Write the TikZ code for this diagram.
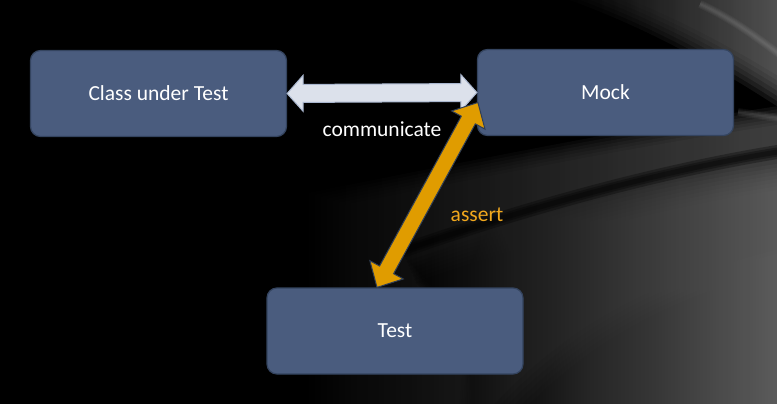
\documentclass[tikz,border=0pt]{standalone}
\usepackage{fontspec}
\setmainfont{Carlito}
\usetikzlibrary{calc}
\definecolor{boxfill}{HTML}{4A5C7E}
\definecolor{boxdraw}{HTML}{34445F}
\definecolor{commfill}{HTML}{DCE1EB}
\definecolor{commdraw}{HTML}{A9B6CE}
\definecolor{assfill}{HTML}{E09C00}
\definecolor{assdraw}{HTML}{2F3E56}
\definecolor{asstext}{HTML}{F2A81D}
\definecolor{bgLb}{HTML}{747474}
\definecolor{bgU}{HTML}{6A6A6A}
\definecolor{bgT}{HTML}{A0A0A0}
\newcommand{\blockarrow}[6]{%
  \draw[#6] (#1)
    -- ($(#1)!#4!(#2)!#5!90:(#2)$)
    -- ($(#1)!#4!(#2)!#3!90:(#2)$)
    -- ($(#2)!#4!(#1)!#3!-90:(#1)$)
    -- ($(#2)!#4!(#1)!#5!-90:(#1)$)
    -- (#2)
    -- ($(#2)!#4!(#1)!#5!90:(#1)$)
    -- ($(#2)!#4!(#1)!#3!90:(#1)$)
    -- ($(#1)!#4!(#2)!#3!-90:(#2)$)
    -- ($(#1)!#4!(#2)!#5!-90:(#2)$)
    -- cycle;}
\begin{document}
\begin{tikzpicture}[x=1pt,y=-1pt,
  box/.style={rectangle, rounded corners=10pt, fill=boxfill, draw=boxdraw,
    line width=1.2pt, minimum width=256pt, minimum height=86pt,
    text=white, font=\fontsize{21.5}{24}\selectfont},
  lbl/.style={font=\fontsize{21.5}{24}\selectfont, inner sep=0pt},
  comm/.style={fill=commfill, draw=commdraw, line width=1pt, line join=miter},
  ass/.style={fill=assfill, draw=assdraw, line width=1pt, line join=miter}]
\useasboundingbox (0,0) rectangle (777,404);
% background
\fill[black] (0,0) rectangle (777,404);
% upper grey band
\foreach \k in {0,...,6} {
  \shade[left color=black, right color=bgU, fill opacity=.14, shift={(\k*0.8,\k*3)}]
    (270,200) .. controls (430,170) and (620,128) .. (820,100) -- (820,440) -- (270,440) -- cycle;
}
% dark wedge
\foreach \w in {14,9,5} {
  \draw[black, opacity=.3, line width=\w pt, line cap=round]
    (405,250) .. controls (520,210) and (660,170) .. (790,150);
}
% lower grey region
\foreach \k in {0,...,7} {
  \shade[left color=black, right color=bgLb, fill opacity=.15, shift={(\k*1.5,\k*3.5)}]
    (405,258) .. controls (520,218) and (660,178) .. (820,158) -- (820,440) -- (450,440) .. controls (480,350) and (450,300) .. cycle;
}
% bottom right brighter
\foreach \k in {0,...,5} {
  \shade[left color=black, right color=bgLb, fill opacity=.12, shift={(\k*4,\k*3)}]
    (480,420) .. controls (560,330) and (650,275) .. (820,240) -- (820,440) -- cycle;
}
% top right corner
\foreach \k in {0,...,6} {
  \shade[left color=black, right color=bgT, fill opacity=.14, shift={(\k*5,-\k*2)}]
    (540,-10) -- (820,-10) -- (820,135) .. controls (740,80) and (650,25) .. (540,-10);
}
\foreach \k in {0,...,3} {
  \draw[white, opacity=.04, line width=2pt+\k*2pt]
    (700,4) .. controls (735,20) and (760,40) .. (790,62);
  \draw[white, opacity=.04, line width=2pt+\k*2pt]
    (738,112) .. controls (750,114) and (765,116) .. (790,120);
}
% nodes
\node[box] (cut) at (158.5,93.5) {Class under Test};
\node[box] (mock) at (605.5,92.5) {Mock};
\node[box] (test) at (395,331) {Test};
\node[lbl, text=white] (commlbl) at (382,129) {communicate};
\node[lbl, text=asstext] (asslbl) at (477,215) {assert};
% connectors
\coordinate (aBot) at ($(test.north)+(-18,0)$);
\coordinate (aTop) at ($(mock.west)+(1,10)$);
\blockarrow{cut.east}{mock.west}{9pt}{16pt}{18pt}{comm}
\blockarrow{aBot}{aTop}{8pt}{20pt}{19pt}{ass}
\end{tikzpicture}
\end{document}
